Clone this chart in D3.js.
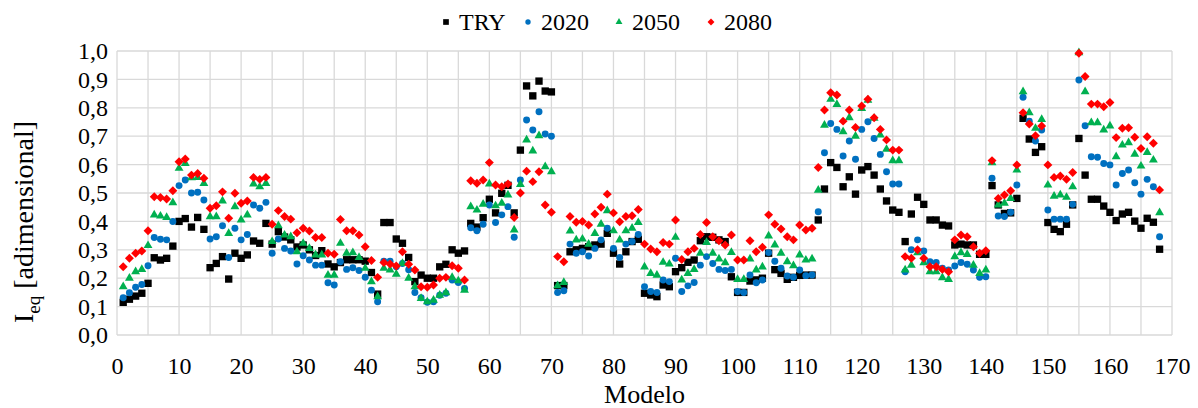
<!DOCTYPE html>
<html><head><meta charset="utf-8">
<script src="https://cdn.jsdelivr.net/npm/d3@7"></script>
<style>body{margin:0;background:#fff}svg{display:block}text{font-family:"Liberation Serif","Times New Roman","DejaVu Serif",serif;fill:#000}</style>
</head><body><svg id="c" width="1198" height="408"></svg>
<script>
const seriesNames = ["TRY","2020","2050","2080"];
const TRY = [0.115,0.126,0.137,0.147,0.182,0.272,0.264,0.27,0.313,0.40,0.41,0.38,0.414,0.372,0.237,0.252,0.276,0.197,0.288,0.27,
0.282,0.331,0.323,0.393,0.32,0.364,0.345,0.335,0.31,0.317,0.30,0.28,0.297,0.25,0.24,0.255,0.265,0.265,0.265,0.26,
0.22,0.144,0.396,0.396,0.338,0.323,0.273,0.188,0.211,0.20,0.20,0.24,0.249,0.30,0.288,0.296,0.393,0.38,0.413,0.478,
0.43,0.499,0.527,0.43,0.651,0.877,0.842,0.894,0.859,0.856,0.174,0.174,0.293,0.30,0.305,0.311,0.317,0.32,0.358,0.288,
0.25,0.293,0.329,0.337,0.147,0.141,0.135,0.176,0.17,0.223,0.237,0.256,0.264,0.332,0.346,0.344,0.335,0.329,0.205,0.15,
0.15,0.19,0.194,0.20,0.288,0.23,0.217,0.196,0.203,0.21,0.211,0.211,0.405,0.514,0.607,0.59,0.522,0.557,0.496,0.581,
0.593,0.563,0.514,0.472,0.44,0.432,0.329,0.426,0.485,0.46,0.405,0.405,0.387,0.384,0.317,0.32,0.317,0.317,0.284,0.284,
0.526,0.458,0.428,0.43,0.481,0.763,0.69,0.643,0.663,0.396,0.372,0.364,0.39,0.458,0.692,0.563,0.478,0.478,0.454,0.432,
0.403,0.426,0.432,0.401,0.376,0.411,0.397,0.302];
const Y2020 = [0.131,0.149,0.168,0.178,0.244,0.343,0.337,0.335,0.40,0.526,0.546,0.50,0.503,0.475,0.338,0.346,0.385,0.273,0.376,0.335,
0.354,0.458,0.446,0.467,0.288,0.338,0.305,0.296,0.25,0.279,0.264,0.246,0.246,0.184,0.176,0.258,0.231,0.237,0.227,0.203,
0.158,0.117,0.26,0.26,0.24,0.252,0.23,0.15,0.131,0.115,0.117,0.14,0.147,0.194,0.185,0.164,0.378,0.367,0.39,0.458,
0.396,0.423,0.452,0.344,0.546,0.757,0.722,0.786,0.708,0.70,0.15,0.156,0.32,0.288,0.293,0.278,0.305,0.335,0.376,0.305,
0.273,0.32,0.329,0.354,0.17,0.153,0.15,0.194,0.188,0.27,0.153,0.173,0.185,0.246,0.276,0.252,0.231,0.227,0.231,0.153,
0.15,0.211,0.184,0.194,0.29,0.26,0.235,0.208,0.203,0.229,0.209,0.211,0.434,0.642,0.745,0.724,0.63,0.683,0.619,0.724,
0.751,0.692,0.636,0.575,0.532,0.532,0.223,0.30,0.335,0.296,0.258,0.255,0.235,0.229,0.243,0.255,0.249,0.229,0.203,0.205,
0.552,0.419,0.417,0.432,0.528,0.837,0.753,0.683,0.722,0.44,0.408,0.408,0.408,0.46,0.898,0.737,0.628,0.626,0.604,0.599,
0.528,0.569,0.581,0.536,0.496,0.548,0.522,0.346];
const Y2050 = [0.17,0.20,0.223,0.231,0.315,0.423,0.419,0.414,0.466,0.587,0.604,0.554,0.555,0.534,0.417,0.417,0.472,0.358,0.452,0.405,
0.423,0.532,0.522,0.534,0.329,0.385,0.352,0.346,0.293,0.323,0.305,0.282,0.282,0.211,0.211,0.323,0.288,0.29,0.273,0.235,
0.188,0.135,0.235,0.229,0.214,0.252,0.20,0.17,0.129,0.117,0.123,0.14,0.149,0.203,0.191,0.158,0.452,0.44,0.461,0.532,
0.455,0.464,0.493,0.37,0.53,0.687,0.648,0.702,0.593,0.575,0.174,0.185,0.366,0.335,0.338,0.32,0.358,0.39,0.438,0.367,
0.335,0.367,0.376,0.396,0.24,0.217,0.211,0.256,0.25,0.344,0.194,0.217,0.231,0.288,0.326,0.288,0.268,0.255,0.291,0.196,
0.196,0.268,0.229,0.24,0.349,0.317,0.288,0.258,0.244,0.282,0.264,0.268,0.51,0.739,0.83,0.812,0.716,0.765,0.70,0.798,
0.827,0.763,0.704,0.654,0.614,0.614,0.229,0.246,0.29,0.255,0.223,0.223,0.202,0.196,0.276,0.29,0.284,0.246,0.217,0.229,
0.607,0.458,0.464,0.481,0.581,0.857,0.783,0.728,0.759,0.528,0.489,0.493,0.485,0.522,0.994,0.857,0.748,0.748,0.722,0.736,
0.628,0.669,0.677,0.637,0.595,0.643,0.616,0.431];
const Y2080 = [0.24,0.27,0.288,0.296,0.367,0.487,0.484,0.479,0.508,0.61,0.62,0.563,0.569,0.552,0.446,0.455,0.504,0.411,0.499,0.464,
0.472,0.555,0.548,0.555,0.39,0.438,0.417,0.408,0.36,0.376,0.366,0.343,0.343,0.288,0.284,0.407,0.367,0.367,0.352,0.311,
0.262,0.203,0.255,0.25,0.243,0.293,0.249,0.229,0.17,0.168,0.176,0.2,0.203,0.244,0.235,0.194,0.543,0.534,0.546,0.607,
0.528,0.522,0.532,0.414,0.50,0.577,0.54,0.575,0.458,0.432,0.276,0.258,0.417,0.397,0.40,0.387,0.426,0.45,0.496,0.43,
0.399,0.417,0.42,0.442,0.32,0.303,0.293,0.326,0.32,0.405,0.266,0.293,0.305,0.354,0.396,0.346,0.332,0.317,0.352,0.264,
0.264,0.332,0.293,0.309,0.423,0.39,0.373,0.346,0.335,0.387,0.37,0.376,0.59,0.792,0.853,0.845,0.753,0.792,0.731,0.806,
0.83,0.765,0.724,0.687,0.651,0.651,0.276,0.27,0.30,0.27,0.24,0.24,0.231,0.223,0.335,0.352,0.346,0.311,0.288,0.297,
0.614,0.481,0.493,0.508,0.599,0.783,0.743,0.702,0.736,0.599,0.555,0.56,0.548,0.572,0.992,0.91,0.813,0.813,0.804,0.819,
0.695,0.728,0.73,0.696,0.657,0.698,0.675,0.511];
const xTicks = d3.range(0, 171, 10);
const yTicks = d3.range(0, 11).map(d => d / 10);

const svg = d3.select("#c");
const L = 117, R = 1172, T = 51, B = 335;
const x = d3.scaleLinear().domain([0, 170]).range([L, R]);
const y = d3.scaleLinear().domain([0, 1]).range([B, T]);
const FONT = '"Liberation Serif","Times New Roman","DejaVu Serif",serif';

// grid
const g = svg.append("g");
g.selectAll("line.v").data(d3.range(0, 171, 5)).join("line")
  .attr("x1", d => x(d)).attr("x2", d => x(d)).attr("y1", T).attr("y2", B)
  .attr("stroke", "#d9d9d9").attr("stroke-width", 1.3);
g.selectAll("line.h").data(yTicks).join("line")
  .attr("x1", L).attr("x2", R).attr("y1", d => y(d)).attr("y2", d => y(d))
  .attr("stroke", "#d9d9d9").attr("stroke-width", 1.3);

// axes
const xa = svg.append("g").attr("transform", `translate(0,${B})`)
  .call(d3.axisBottom(x).tickValues(xTicks).tickSize(0).tickPadding(22).tickFormat(d3.format("d")));
const ya = svg.append("g").attr("transform", `translate(${L},0)`)
  .call(d3.axisLeft(y).tickValues(yTicks).tickSize(0).tickPadding(9).tickFormat(d => d.toFixed(1).replace(".", ",")));
[xa, ya].forEach(a => { a.attr("font-family", FONT).attr("font-size", 24); a.select(".domain").remove(); a.selectAll("text").attr("fill", "#000"); });

const styles = [
  {name: "TRY", data: TRY, color: "#000000", type: d3.symbolSquare, size: 54, rot: 0},
  {name: "2020", data: Y2020, color: "#0070C0", type: d3.symbolCircle, size: 38, rot: 0},
  {name: "2050", data: Y2050, color: "#00B050", type: d3.symbolTriangle, size: 34, rot: 0},
  {name: "2080", data: Y2080, color: "#FF0000", type: d3.symbolSquare, size: 40, rot: 45}
];
styles.forEach(s => {
  const sym = d3.symbol().type(s.type).size(s.size);
  svg.append("g").selectAll("path").data(s.data).join("path")
    .attr("d", sym)
    .attr("transform", (d, i) => `translate(${x(i + 1)},${y(d)}) rotate(${s.rot})`)
    .attr("fill", s.color);
});

// legend
const legX = [446, 528, 619, 711];
const lg = svg.append("g");
styles.forEach((s, i) => {
  const sym = d3.symbol().type(s.type).size(s.size * 0.6);
  lg.append("path").attr("d", sym).attr("fill", s.color)
    .attr("transform", `translate(${legX[i]},22) rotate(${s.rot})`);
  lg.append("text").attr("x", legX[i] + 13).attr("y", 30).style("font-size", "24px").text(s.name);
});

// titles
svg.append("text").attr("x", (L + R) / 2).attr("y", 403).attr("text-anchor", "middle").style("font-size", "26px").text("Modelo");
const yt = svg.append("text").attr("transform", "translate(33,222) rotate(-90)").attr("text-anchor", "middle").style("font-size", "28px");
yt.append("tspan").text("I");
yt.append("tspan").attr("dy", 7).style("font-size", "19px").text("eq");
yt.append("tspan").attr("dy", -7).text(" [adimensional]");
</script></body></html>
